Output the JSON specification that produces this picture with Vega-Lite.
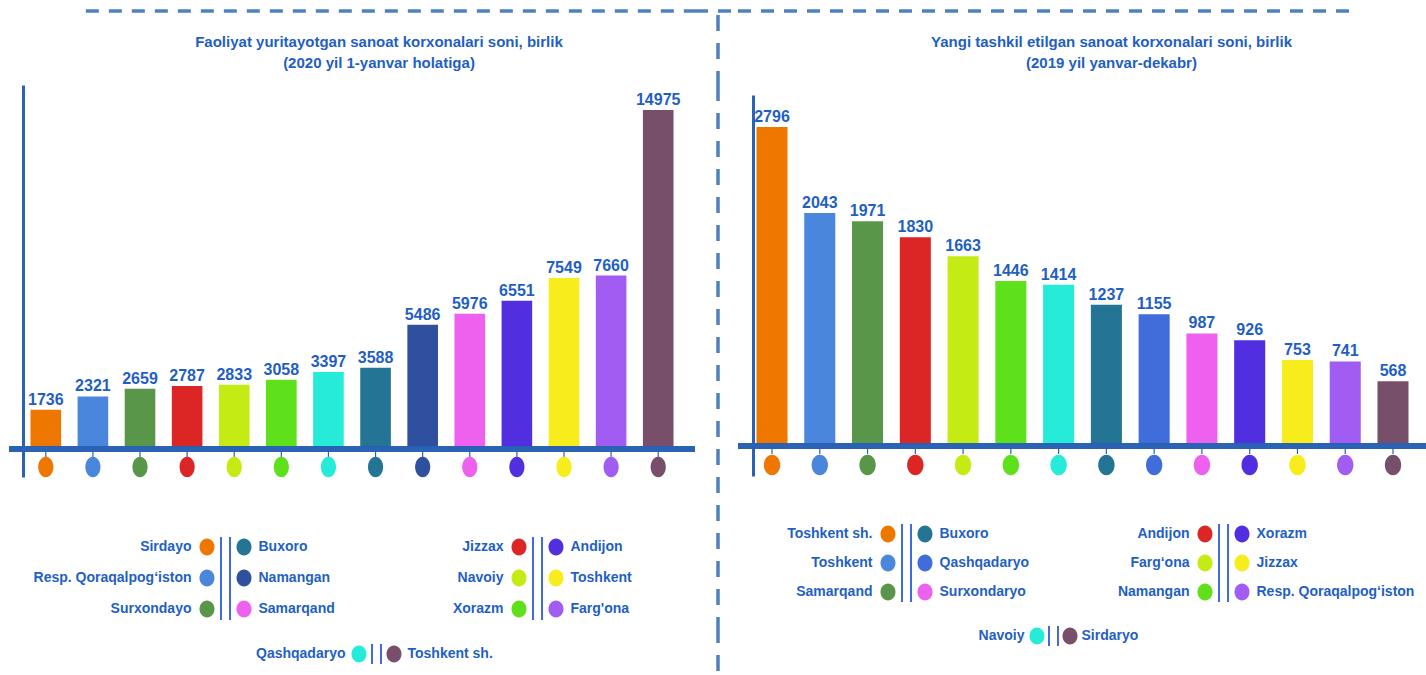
{
  "$schema": "https://vega.github.io/schema/vega-lite/v6.json",
  "padding": {"left": 6, "top": 0, "right": 0, "bottom": 0},
  "background": "white",
  "config": {
    "view": {"stroke": null},
    "font": "Liberation Sans, Arial, sans-serif",
    "text": {"font": "Liberation Sans, Arial, sans-serif"}
  },
  "datasets": {
    "blank": [{}],
    "left": [
      {"region": "Sirdayo", "value": 1736},
      {"region": "Resp. Qoraqalpog‘iston", "value": 2321},
      {"region": "Surxondayo", "value": 2659},
      {"region": "Jizzax", "value": 2787},
      {"region": "Navoiy", "value": 2833},
      {"region": "Xorazm", "value": 3058},
      {"region": "Qashqadaryo", "value": 3397},
      {"region": "Buxoro", "value": 3588},
      {"region": "Namangan", "value": 5486},
      {"region": "Samarqand", "value": 5976},
      {"region": "Andijon", "value": 6551},
      {"region": "Toshkent", "value": 7549},
      {"region": "Farg'ona", "value": 7660},
      {"region": "Toshkent sh.", "value": 14975}
    ],
    "right": [
      {"region": "Toshkent sh.", "value": 2796},
      {"region": "Toshkent", "value": 2043},
      {"region": "Samarqand", "value": 1971},
      {"region": "Andijon", "value": 1830},
      {"region": "Farg‘ona", "value": 1663},
      {"region": "Namangan", "value": 1446},
      {"region": "Navoiy", "value": 1414},
      {"region": "Buxoro", "value": 1237},
      {"region": "Qashqadaryo", "value": 1155},
      {"region": "Surxondaryo", "value": 987},
      {"region": "Xorazm", "value": 926},
      {"region": "Jizzax", "value": 753},
      {"region": "Resp. Qoraqalpog‘iston", "value": 741},
      {"region": "Sirdaryo", "value": 568}
    ],
    "leftLegend": [
      {"region": "Sirdayo", "grp": "a", "row": 1, "side": "L"},
      {"region": "Resp. Qoraqalpog‘iston", "grp": "a", "row": 2, "side": "L"},
      {"region": "Surxondayo", "grp": "a", "row": 3, "side": "L"},
      {"region": "Buxoro", "grp": "a", "row": 1, "side": "R"},
      {"region": "Namangan", "grp": "a", "row": 2, "side": "R"},
      {"region": "Samarqand", "grp": "a", "row": 3, "side": "R"},
      {"region": "Jizzax", "grp": "b", "row": 1, "side": "L"},
      {"region": "Navoiy", "grp": "b", "row": 2, "side": "L"},
      {"region": "Xorazm", "grp": "b", "row": 3, "side": "L"},
      {"region": "Andijon", "grp": "b", "row": 1, "side": "R"},
      {"region": "Toshkent", "grp": "b", "row": 2, "side": "R"},
      {"region": "Farg'ona", "grp": "b", "row": 3, "side": "R"},
      {"region": "Qashqadaryo", "grp": "c", "row": 1, "side": "L"},
      {"region": "Toshkent sh.", "grp": "c", "row": 1, "side": "R"}
    ],
    "rightLegend": [
      {"region": "Toshkent sh.", "grp": "a", "row": 1, "side": "L"},
      {"region": "Toshkent", "grp": "a", "row": 2, "side": "L"},
      {"region": "Samarqand", "grp": "a", "row": 3, "side": "L"},
      {"region": "Buxoro", "grp": "a", "row": 1, "side": "R"},
      {"region": "Qashqadaryo", "grp": "a", "row": 2, "side": "R"},
      {"region": "Surxondaryo", "grp": "a", "row": 3, "side": "R"},
      {"region": "Andijon", "grp": "b", "row": 1, "side": "L"},
      {"region": "Farg‘ona", "grp": "b", "row": 2, "side": "L"},
      {"region": "Namangan", "grp": "b", "row": 3, "side": "L"},
      {"region": "Xorazm", "grp": "b", "row": 1, "side": "R"},
      {"region": "Jizzax", "grp": "b", "row": 2, "side": "R"},
      {"region": "Resp. Qoraqalpog‘iston", "grp": "b", "row": 3, "side": "R"},
      {"region": "Navoiy", "grp": "c", "row": 1, "side": "L"},
      {"region": "Sirdaryo", "grp": "c", "row": 1, "side": "R"}
    ]
  },
  "columns": 3,
  "spacing": 0,
  "bounds": "flush",
  "align": "each",
  "resolve": {"scale": {"color": "independent", "x": "independent", "y": "independent"}},
  "concat": [
    {
      "width": 686, "height": 85,
      "data": {"name": "blank"},
      "mark": {"type": "rule", "color": "#4F81BD", "strokeWidth": 3.5, "strokeDash": [13, 10]},
      "encoding": {
        "x": {"datum": 0.112, "type": "quantitative", "scale": {"domain": [0, 1], "nice": false, "zero": false}, "axis": null},
        "x2": {"datum": 1},
        "y": {"datum": 0.8706, "type": "quantitative", "scale": {"domain": [0, 1], "nice": false, "zero": false}, "axis": null}
      }
    },
    {
      "width": 43, "height": 85,
      "data": {"name": "blank"},
      "layer": [
        {
          "mark": {"type": "rule", "color": "#4F81BD", "strokeWidth": 3.5, "strokeDash": [13, 10]},
          "encoding": {
            "x": {"datum": 0, "type": "quantitative", "scale": {"domain": [0, 1], "nice": false, "zero": false}, "axis": null},
            "x2": {"datum": 1},
            "y": {"datum": 0.8706, "type": "quantitative", "scale": {"domain": [0, 1], "nice": false, "zero": false}, "axis": null}
          }
        },
        {
          "mark": {"type": "rule", "color": "#4F81BD", "strokeWidth": 3.5, "strokeDash": [16, 12]},
          "encoding": {
            "x": {"datum": 0.535, "type": "quantitative"},
            "y": {"datum": 0.8235, "type": "quantitative"},
            "y2": {"datum": 0}
          }
        }
      ]
    },
    {
      "width": 689, "height": 85,
      "data": {"name": "blank"},
      "mark": {"type": "rule", "color": "#4F81BD", "strokeWidth": 3.5, "strokeDash": [13, 10]},
      "encoding": {
        "x": {"datum": 0, "type": "quantitative", "scale": {"domain": [0, 1], "nice": false, "zero": false}, "axis": null},
        "x2": {"datum": 0.897},
        "y": {"datum": 0.8706, "type": "quantitative", "scale": {"domain": [0, 1], "nice": false, "zero": false}, "axis": null}
      }
    },
    {
      "width": 686, "height": 392,
      "title": {
        "text": ["Faoliyat yuritayotgan sanoat korxonalari soni, birlik", "(2020 yil 1-yanvar holatiga)"],
        "font": "Liberation Sans, Arial, sans-serif",
        "fontSize": 15, "fontWeight": "bold", "color": "#1F5FC4", "lineHeight": 21,
        "anchor": "middle", "offset": 14, "dx": 27
      },
      "data": {"name": "left"},
      "layer": [
        {
          "mark": {"type": "bar"},
          "encoding": {
            "x": {"field": "region", "type": "nominal", "sort": null, "scale": {"type": "band", "paddingInner": 0.35, "paddingOuter": 0.456}, "axis": null},
            "y": {"field": "value", "type": "quantitative", "scale": {"domain": [-1237, 16079], "nice": false, "zero": false},
                  "axis": {"domain": true, "domainColor": "#2A62B5", "domainWidth": 3, "ticks": false, "labels": false, "grid": false, "title": null, "offset": -14}},
            "y2": {"datum": 0},
            "color": {"field": "region", "type": "nominal", "legend": null,
                      "scale": {"domain": ["Sirdayo", "Resp. Qoraqalpog‘iston", "Surxondayo", "Jizzax", "Navoiy", "Xorazm", "Qashqadaryo", "Buxoro", "Namangan", "Samarqand", "Andijon", "Toshkent", "Farg'ona", "Toshkent sh."],
                                "range": ["#EE7700", "#4A86DC", "#5A964A", "#DC2626", "#C4EB14", "#5EE01A", "#26EBD8", "#247595", "#2F4F9F", "#EE60EE", "#512EDF", "#F7EC1C", "#A15CF2", "#774F6B"]}}
          }
        },
        {
          "mark": {"type": "text", "baseline": "bottom", "dy": -2, "fontSize": 16, "fontWeight": "bold", "color": "#1F5FC4"},
          "encoding": {
            "x": {"field": "region", "type": "nominal", "sort": null},
            "y": {"field": "value", "type": "quantitative"},
            "text": {"field": "value", "type": "quantitative", "format": "d"}
          }
        },
        {
          "mark": {"type": "rule", "color": "#2A62B5", "strokeWidth": 1.2},
          "encoding": {
            "x": {"field": "region", "type": "nominal", "sort": null},
            "y": {"datum": 0, "type": "quantitative"},
            "y2": {"datum": -353}
          }
        },
        {
          "mark": {"type": "point", "filled": true, "opacity": 1, "size": 420, "shape": "M0,-1A0.74,1,0,1,1,0,1A0.74,1,0,1,1,0,-1Z"},
          "encoding": {
            "x": {"field": "region", "type": "nominal", "sort": null},
            "y": {"datum": -795, "type": "quantitative"},
            "color": {"field": "region", "type": "nominal", "legend": null}
          }
        },
        {
          "mark": {"type": "rule", "color": "#2A62B5", "strokeWidth": 4.5},
          "encoding": {"y": {"datum": 0, "type": "quantitative"}}
        }
      ]
    },
    {
      "width": 43, "height": 392,
      "data": {"name": "blank"},
      "mark": {"type": "rule", "color": "#4F81BD", "strokeWidth": 3.5, "strokeDash": [16, 12]},
      "encoding": {"x": {"datum": 0.535, "type": "quantitative", "scale": {"domain": [0, 1], "nice": false, "zero": false}, "axis": null}}
    },
    {
      "width": 689, "height": 392,
      "title": {
        "text": ["Yangi tashkil etilgan sanoat korxonalari soni, birlik", "(2019 yil yanvar-dekabr)"],
        "font": "Liberation Sans, Arial, sans-serif",
        "fontSize": 15, "fontWeight": "bold", "color": "#1F5FC4", "lineHeight": 21,
        "anchor": "middle", "offset": 14, "dx": 29
      },
      "data": {"name": "right"},
      "layer": [
        {
          "mark": {"type": "bar"},
          "encoding": {
            "x": {"field": "region", "type": "nominal", "sort": null, "scale": {"type": "band", "paddingInner": 0.35, "paddingOuter": 0.387}, "axis": null},
            "y": {"field": "value", "type": "quantitative", "scale": {"domain": [-263, 3076.5], "range": [391, 10], "nice": false, "zero": false},
                  "axis": {"domain": true, "domainColor": "#2A62B5", "domainWidth": 3, "ticks": false, "labels": false, "grid": false, "title": null, "offset": -15}},
            "y2": {"datum": 0},
            "color": {"field": "region", "type": "nominal", "legend": null,
                      "scale": {"domain": ["Toshkent sh.", "Toshkent", "Samarqand", "Andijon", "Farg‘ona", "Namangan", "Navoiy", "Buxoro", "Qashqadaryo", "Surxondaryo", "Xorazm", "Jizzax", "Resp. Qoraqalpog‘iston", "Sirdaryo"],
                                "range": ["#EE7700", "#4A86DC", "#5A964A", "#DC2626", "#C4EB14", "#5EE01A", "#26EBD8", "#247595", "#416DDB", "#EE60EE", "#512EDF", "#F7EC1C", "#A15CF2", "#774F6B"]}}
          }
        },
        {
          "mark": {"type": "text", "baseline": "bottom", "dy": -2, "fontSize": 16, "fontWeight": "bold", "color": "#1F5FC4"},
          "encoding": {
            "x": {"field": "region", "type": "nominal", "sort": null},
            "y": {"field": "value", "type": "quantitative"},
            "text": {"field": "value", "type": "quantitative", "format": "d"}
          }
        },
        {
          "mark": {"type": "rule", "color": "#2A62B5", "strokeWidth": 1.2},
          "encoding": {
            "x": {"field": "region", "type": "nominal", "sort": null},
            "y": {"datum": 0, "type": "quantitative"},
            "y2": {"datum": -70}
          }
        },
        {
          "mark": {"type": "point", "filled": true, "opacity": 1, "size": 420, "shape": "M0,-1A0.8,1,0,1,1,0,1A0.8,1,0,1,1,0,-1Z"},
          "encoding": {
            "x": {"field": "region", "type": "nominal", "sort": null},
            "y": {"datum": -166, "type": "quantitative"},
            "color": {"field": "region", "type": "nominal", "legend": null}
          }
        },
        {
          "mark": {"type": "rule", "color": "#2A62B5", "strokeWidth": 4.5},
          "encoding": {"y": {"datum": 0, "type": "quantitative"}}
        }
      ]
    },
    {
      "width": 686, "height": 150,
      "data": {"name": "leftLegend"},
      "transform": [{"filter": "datum.grp !== 'c'"}],
      "encoding": {
        "x": {"field": "grp", "type": "nominal", "scale": {"type": "point", "domain": ["a", "b"], "range": [216.5, 528.5], "padding": 0}, "axis": null},
        "y": {"field": "row", "type": "quantitative", "scale": {"domain": [1, 3], "range": [70, 132], "nice": false, "zero": false}, "axis": null}
      },
      "layer": [
        {"transform": [{"filter": "datum.side === 'L'"}],
         "mark": {"type": "text", "align": "right", "baseline": "middle", "dx": -34, "fontSize": 14, "fontWeight": "bold", "color": "#1F5FC4"},
         "encoding": {"text": {"field": "region"}}},
        {"transform": [{"filter": "datum.side === 'R'"}],
         "mark": {"type": "text", "align": "left", "baseline": "middle", "dx": 33, "fontSize": 14, "fontWeight": "bold", "color": "#1F5FC4"},
         "encoding": {"text": {"field": "region"}}},
        {"transform": [{"filter": "datum.side === 'L'"}],
         "mark": {"type": "point", "filled": true, "opacity": 1, "size": 290, "xOffset": -18.5, "shape": "M0,-1A0.88,1,0,1,1,0,1A0.88,1,0,1,1,0,-1Z"},
         "encoding": {"color": {"field": "region", "type": "nominal", "legend": null,
                      "scale": {"domain": ["Sirdayo", "Resp. Qoraqalpog‘iston", "Surxondayo", "Jizzax", "Navoiy", "Xorazm", "Qashqadaryo", "Buxoro", "Namangan", "Samarqand", "Andijon", "Toshkent", "Farg'ona", "Toshkent sh."],
                                "range": ["#EE7700", "#4A86DC", "#5A964A", "#DC2626", "#C4EB14", "#5EE01A", "#26EBD8", "#247595", "#2F4F9F", "#EE60EE", "#512EDF", "#F7EC1C", "#A15CF2", "#774F6B"]}}}},
        {"transform": [{"filter": "datum.side === 'R'"}],
         "mark": {"type": "point", "filled": true, "opacity": 1, "size": 290, "xOffset": 18.5, "shape": "M0,-1A0.88,1,0,1,1,0,1A0.88,1,0,1,1,0,-1Z"},
         "encoding": {"color": {"field": "region", "type": "nominal", "legend": null}}},
        {"mark": {"type": "rule", "color": "#4169E1", "strokeWidth": 2, "xOffset": -4.5, "yOffset": -10, "y2Offset": 11},
         "encoding": {"y": {"field": "row", "type": "quantitative", "aggregate": "min"}, "y2": {"field": "row", "aggregate": "max"}}},
        {"mark": {"type": "rule", "color": "#4169E1", "strokeWidth": 2, "xOffset": 4.5, "yOffset": -10, "y2Offset": 11},
         "encoding": {"y": {"field": "row", "type": "quantitative", "aggregate": "min"}, "y2": {"field": "row", "aggregate": "max"}}}
      ]
    },
    {
      "width": 43, "height": 150,
      "data": {"name": "blank"},
      "mark": {"type": "rule", "color": "#4F81BD", "strokeWidth": 3.5, "strokeDash": [16, 12]},
      "encoding": {"x": {"datum": 0.535, "type": "quantitative", "scale": {"domain": [0, 1], "nice": false, "zero": false}, "axis": null}}
    },
    {
      "width": 689, "height": 150,
      "data": {"name": "rightLegend"},
      "transform": [{"filter": "datum.grp !== 'c'"}],
      "encoding": {
        "x": {"field": "grp", "type": "nominal", "scale": {"type": "point", "domain": ["a", "b"], "range": [168.5, 485.5], "padding": 0}, "axis": null},
        "y": {"field": "row", "type": "quantitative", "scale": {"domain": [1, 3], "range": [57, 115], "nice": false, "zero": false}, "axis": null}
      },
      "layer": [
        {"transform": [{"filter": "datum.side === 'L'"}],
         "mark": {"type": "text", "align": "right", "baseline": "middle", "dx": -34, "fontSize": 14, "fontWeight": "bold", "color": "#1F5FC4"},
         "encoding": {"text": {"field": "region"}}},
        {"transform": [{"filter": "datum.side === 'R'"}],
         "mark": {"type": "text", "align": "left", "baseline": "middle", "dx": 33, "fontSize": 14, "fontWeight": "bold", "color": "#1F5FC4"},
         "encoding": {"text": {"field": "region"}}},
        {"transform": [{"filter": "datum.side === 'L'"}],
         "mark": {"type": "point", "filled": true, "opacity": 1, "size": 290, "xOffset": -18.5, "shape": "M0,-1A0.88,1,0,1,1,0,1A0.88,1,0,1,1,0,-1Z"},
         "encoding": {"color": {"field": "region", "type": "nominal", "legend": null,
                      "scale": {"domain": ["Toshkent sh.", "Toshkent", "Samarqand", "Andijon", "Farg‘ona", "Namangan", "Navoiy", "Buxoro", "Qashqadaryo", "Surxondaryo", "Xorazm", "Jizzax", "Resp. Qoraqalpog‘iston", "Sirdaryo"],
                                "range": ["#EE7700", "#4A86DC", "#5A964A", "#DC2626", "#C4EB14", "#5EE01A", "#26EBD8", "#247595", "#416DDB", "#EE60EE", "#512EDF", "#F7EC1C", "#A15CF2", "#774F6B"]}}}},
        {"transform": [{"filter": "datum.side === 'R'"}],
         "mark": {"type": "point", "filled": true, "opacity": 1, "size": 290, "xOffset": 18.5, "shape": "M0,-1A0.88,1,0,1,1,0,1A0.88,1,0,1,1,0,-1Z"},
         "encoding": {"color": {"field": "region", "type": "nominal", "legend": null}}},
        {"mark": {"type": "rule", "color": "#4169E1", "strokeWidth": 2, "xOffset": -4.5, "yOffset": -10, "y2Offset": 10},
         "encoding": {"y": {"field": "row", "type": "quantitative", "aggregate": "min"}, "y2": {"field": "row", "aggregate": "max"}}},
        {"mark": {"type": "rule", "color": "#4169E1", "strokeWidth": 2, "xOffset": 4.5, "yOffset": -10, "y2Offset": 10},
         "encoding": {"y": {"field": "row", "type": "quantitative", "aggregate": "min"}, "y2": {"field": "row", "aggregate": "max"}}}
      ]
    },
    {
      "width": 686, "height": 48,
      "data": {"name": "leftLegend"},
      "transform": [{"filter": "datum.grp === 'c'"}],
      "encoding": {
        "x": {"field": "grp", "type": "nominal", "scale": {"type": "point", "domain": ["c"], "range": [0, 735], "padding": 0.5}, "axis": null},
        "y": {"field": "row", "type": "quantitative", "scale": {"domain": [0, 2], "range": [17, 37], "nice": false, "zero": false}, "axis": null}
      },
      "layer": [
        {"transform": [{"filter": "datum.side === 'L'"}],
         "mark": {"type": "text", "align": "right", "baseline": "middle", "dx": -31, "fontSize": 14, "fontWeight": "bold", "color": "#1F5FC4"},
         "encoding": {"text": {"field": "region"}}},
        {"transform": [{"filter": "datum.side === 'R'"}],
         "mark": {"type": "text", "align": "left", "baseline": "middle", "dx": 31, "fontSize": 14, "fontWeight": "bold", "color": "#1F5FC4"},
         "encoding": {"text": {"field": "region"}}},
        {"transform": [{"filter": "datum.side === 'L'"}],
         "mark": {"type": "point", "filled": true, "opacity": 1, "size": 290, "xOffset": -17.5, "shape": "M0,-1A0.88,1,0,1,1,0,1A0.88,1,0,1,1,0,-1Z"},
         "encoding": {"color": {"field": "region", "type": "nominal", "legend": null,
                      "scale": {"domain": ["Sirdayo", "Resp. Qoraqalpog‘iston", "Surxondayo", "Jizzax", "Navoiy", "Xorazm", "Qashqadaryo", "Buxoro", "Namangan", "Samarqand", "Andijon", "Toshkent", "Farg'ona", "Toshkent sh."],
                                "range": ["#EE7700", "#4A86DC", "#5A964A", "#DC2626", "#C4EB14", "#5EE01A", "#26EBD8", "#247595", "#2F4F9F", "#EE60EE", "#512EDF", "#F7EC1C", "#A15CF2", "#774F6B"]}}}},
        {"transform": [{"filter": "datum.side === 'R'"}],
         "mark": {"type": "point", "filled": true, "opacity": 1, "size": 290, "xOffset": 17.5, "shape": "M0,-1A0.88,1,0,1,1,0,1A0.88,1,0,1,1,0,-1Z"},
         "encoding": {"color": {"field": "region", "type": "nominal", "legend": null}}},
        {"mark": {"type": "rule", "color": "#4169E1", "strokeWidth": 2, "xOffset": -4.5, "yOffset": -10, "y2Offset": 10},
         "encoding": {"y": {"field": "row", "type": "quantitative", "aggregate": "min"}, "y2": {"field": "row", "aggregate": "max"}}},
        {"mark": {"type": "rule", "color": "#4169E1", "strokeWidth": 2, "xOffset": 4.5, "yOffset": -10, "y2Offset": 10},
         "encoding": {"y": {"field": "row", "type": "quantitative", "aggregate": "min"}, "y2": {"field": "row", "aggregate": "max"}}}
      ]
    },
    {
      "width": 43, "height": 48,
      "data": {"name": "blank"},
      "mark": {"type": "rule", "color": "#4F81BD", "strokeWidth": 3.5, "strokeDash": [16, 12]},
      "encoding": {"x": {"datum": 0.535, "type": "quantitative", "scale": {"domain": [0, 1], "nice": false, "zero": false}, "axis": null}}
    },
    {
      "width": 689, "height": 48,
      "data": {"name": "rightLegend"},
      "transform": [{"filter": "datum.grp === 'c'"}],
      "encoding": {
        "x": {"field": "grp", "type": "nominal", "scale": {"type": "point", "domain": ["c"], "range": [0, 631], "padding": 0.5}, "axis": null},
        "y": {"field": "row", "type": "quantitative", "scale": {"domain": [0, 2], "range": [-1, 19], "nice": false, "zero": false}, "axis": null}
      },
      "layer": [
        {"transform": [{"filter": "datum.side === 'L'"}],
         "mark": {"type": "text", "align": "right", "baseline": "middle", "dx": -29, "fontSize": 14, "fontWeight": "bold", "color": "#1F5FC4"},
         "encoding": {"text": {"field": "region"}}},
        {"transform": [{"filter": "datum.side === 'R'"}],
         "mark": {"type": "text", "align": "left", "baseline": "middle", "dx": 28, "fontSize": 14, "fontWeight": "bold", "color": "#1F5FC4"},
         "encoding": {"text": {"field": "region"}}},
        {"transform": [{"filter": "datum.side === 'L'"}],
         "mark": {"type": "point", "filled": true, "opacity": 1, "size": 290, "xOffset": -16.5, "shape": "M0,-1A0.88,1,0,1,1,0,1A0.88,1,0,1,1,0,-1Z"},
         "encoding": {"color": {"field": "region", "type": "nominal", "legend": null,
                      "scale": {"domain": ["Toshkent sh.", "Toshkent", "Samarqand", "Andijon", "Farg‘ona", "Namangan", "Navoiy", "Buxoro", "Qashqadaryo", "Surxondaryo", "Xorazm", "Jizzax", "Resp. Qoraqalpog‘iston", "Sirdaryo"],
                                "range": ["#EE7700", "#4A86DC", "#5A964A", "#DC2626", "#C4EB14", "#5EE01A", "#26EBD8", "#247595", "#416DDB", "#EE60EE", "#512EDF", "#F7EC1C", "#A15CF2", "#774F6B"]}}}},
        {"transform": [{"filter": "datum.side === 'R'"}],
         "mark": {"type": "point", "filled": true, "opacity": 1, "size": 290, "xOffset": 16.5, "shape": "M0,-1A0.88,1,0,1,1,0,1A0.88,1,0,1,1,0,-1Z"},
         "encoding": {"color": {"field": "region", "type": "nominal", "legend": null}}},
        {"mark": {"type": "rule", "color": "#4169E1", "strokeWidth": 2, "xOffset": -4.5, "yOffset": -10, "y2Offset": 10},
         "encoding": {"y": {"field": "row", "type": "quantitative", "aggregate": "min"}, "y2": {"field": "row", "aggregate": "max"}}},
        {"mark": {"type": "rule", "color": "#4169E1", "strokeWidth": 2, "xOffset": 4.5, "yOffset": -10, "y2Offset": 10},
         "encoding": {"y": {"field": "row", "type": "quantitative", "aggregate": "min"}, "y2": {"field": "row", "aggregate": "max"}}}
      ]
    }
  ]
}
